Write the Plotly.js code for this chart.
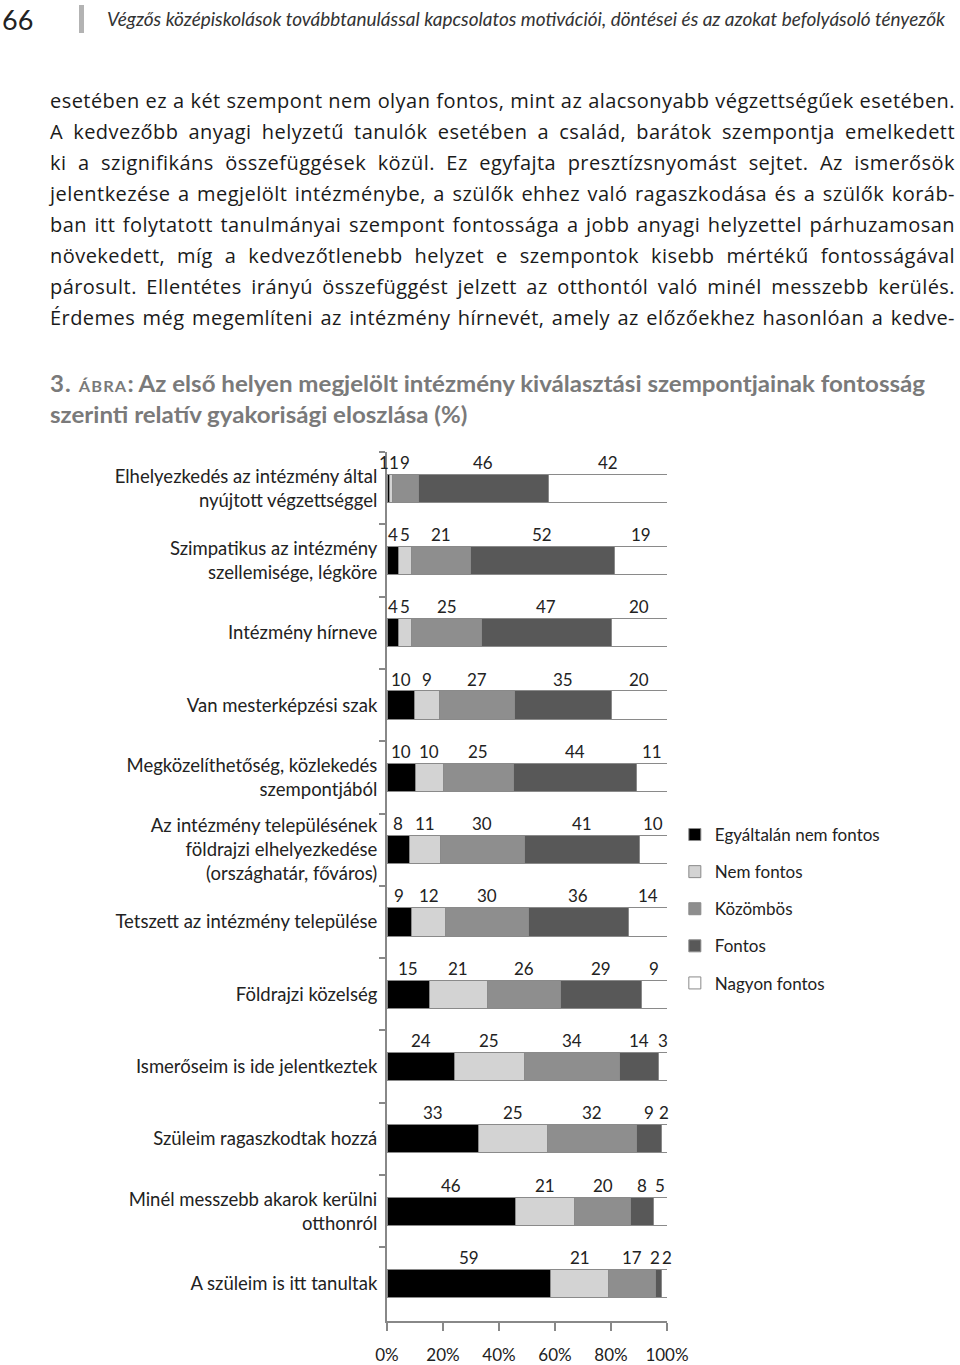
<!DOCTYPE html>
<html>
<head>
<meta charset="utf-8">
<script src="https://cdn.plot.ly/plotly-3.0.1.min.js"></script>
<style>
  html, body { margin:0; padding:0; background:#fff; }
  body { width:960px; height:1365px; position:relative; overflow:hidden; font-family: Lato, "Noto Sans", sans-serif; color:#1a1a1a; }
  .abs { position:absolute; }
  .pline { position:absolute; left:50px; height:31px; line-height:31px; font-size:20px; letter-spacing:0.45px; font-family:"Open Sans", "Noto Sans", sans-serif; color:#1a1a1a; white-space:nowrap; }
  .pline span { display:inline-block; white-space:nowrap; }
  .ttl { position:absolute; left:50px; height:31px; line-height:31px; font-size:22px; font-weight:700; color:#7a7a7a; white-space:nowrap; }
  .ttl span { display:inline-block; white-space:nowrap; transform-origin:0 50%; }
  .sc { font-variant:small-caps; letter-spacing:1px; }
</style>
</head>
<body>
<div class="abs" style="left:2px;top:4px;font-size:27px;line-height:32px;color:#222;">66</div>
<div class="abs" style="left:79px;top:5px;width:5px;height:28px;background:#b3b3b3;"></div>
<div class="abs" id="hdr" style="left:107px;top:4px;font-size:19px;line-height:30px;font-style:italic;color:#333;white-space:nowrap;transform-origin:0 50%;">Végzős középiskolások továbbtanulással kapcsolatos motivációi, döntései és az azokat befolyásoló tényezők</div>

<div id="para"></div>

<div class="ttl" style="top:368px;"><span id="t1"><span class="sc">3. ábra</span>: Az első helyen megjelölt intézmény kiválasztási szempontjainak fontosság</span></div>
<div class="ttl" style="top:399px;"><span id="t2">szerinti relatív gyakorisági eloszlása (%)</span></div>

<div id="chart" class="abs" style="left:0;top:440px;width:960px;height:925px;"></div>

<script>
// ---- page text ----
const paraLines = [
  "esetében ez a két szempont nem olyan fontos, mint az alacsonyabb végzettségűek esetében.",
  "A kedvezőbb anyagi helyzetű tanulók esetében a család, barátok szempontja emelkedett",
  "ki a szignifikáns összefüggések közül. Ez egyfajta presztízsnyomást sejtet. Az ismerősök",
  "jelentkezése a megjelölt intézménybe, a szülők ehhez való ragaszkodása és a szülők koráb-",
  "ban itt folytatott tanulmányai szempont fontossága a jobb anyagi helyzettel párhuzamosan",
  "növekedett, míg a kedvezőtlenebb helyzet e szempontok kisebb mértékű fontosságával",
  "párosult. Ellentétes irányú összefüggést jelzett az otthontól való minél messzebb kerülés.",
  "Érdemes még megemlíteni az intézmény hírnevét, amely az előzőekhez hasonlóan a kedve-"
];

// ---- chart data ----
const categories = [
  "Elhelyezkedés az intézmény által<br>nyújtott végzettséggel",
  "Szimpatikus az intézmény<br>szellemisége, légköre",
  "Intézmény hírneve",
  "Van mesterképzési szak",
  "Megközelíthetőség, közlekedés<br>szempontjából",
  "Az intézmény településének<br>földrajzi elhelyezkedése<br>(országhatár, főváros)",
  "Tetszett az intézmény települése",
  "Földrajzi közelség",
  "Ismerőseim is ide jelentkeztek",
  "Szüleim ragaszkodtak hozzá",
  "Minél messzebb akarok kerülni<br>otthonról",
  "A szüleim is itt tanultak"
];
const seriesNames = ["Egyáltalán nem fontos", "Nem fontos", "Közömbös", "Fontos", "Nagyon fontos"];
const egyaltalanNem = [1, 4, 4, 10, 10, 8, 9, 15, 24, 33, 46, 59];
const nemFontos     = [1, 5, 5, 9, 10, 11, 12, 21, 25, 25, 21, 21];
const kozombos      = [9, 21, 25, 27, 25, 30, 30, 26, 34, 32, 20, 17];
const fontos        = [46, 52, 47, 35, 44, 41, 36, 29, 14, 9, 8, 2];
const nagyonFontos  = [42, 19, 20, 20, 11, 10, 14, 9, 3, 2, 5, 2];
const tickVals = [0, 20, 40, 60, 80, 100];
const tickLabels = ["0%", "20%", "40%", "60%", "80%", "100%"];

const seriesValues = [egyaltalanNem, nemFontos, kozombos, fontos, nagyonFontos];
const colors = ["#000000", "#d3d3d3", "#8e8e8e", "#585858", "#ffffff"];

// build paragraph lines (justified)
const para = document.getElementById('para');
const W = 905;
paraLines.forEach((t, i) => {
  const d = document.createElement('div');
  d.className = 'pline';
  d.style.top = (85 + i * 31) + 'px';
  const s = document.createElement('span');
  s.textContent = t;
  d.appendChild(s);
  para.appendChild(d);
  const nat = s.getBoundingClientRect().width;
  const spaces = (t.match(/ /g) || []).length;
  if (nat <= W) {
    s.style.wordSpacing = ((W - nat) / spaces) + 'px';
  } else {
    s.style.transformOrigin = '0 50%';
    s.style.transform = 'scaleX(' + (W / nat) + ')';
  }
});
// fit header and title
(function(){
  const h = document.getElementById('hdr');
  const hw = h.getBoundingClientRect().width;
  h.style.transform = 'scaleX(' + (838 / hw) + ')';
  const t1 = document.getElementById('t1'), t2 = document.getElementById('t2');
  const k = 875 / t1.getBoundingClientRect().width;
  t1.style.transform = 'scaleX(' + k + ')';
  t2.style.transform = 'scaleX(' + k + ')';
})();

// ---- traces ----
const traces = seriesNames.map((name, j) => ({
  type: 'bar',
  orientation: 'h',
  name: name,
  x: seriesValues[j],
  y: categories,
  legendgroup: 'g' + j,
  marker: { color: colors[j], line: { color: '#8a8a8a', width: 1 } },
  hoverinfo: 'x+y+name'
}));

// value labels above each segment (positions derived from data)
const annotations = [];
categories.forEach((c, i) => {
  const total = seriesValues.reduce((a, s) => a + s[i], 0);
  let cum = 0;
  seriesValues.forEach((s, j) => {
    const v = s[i];
    const next = j < seriesValues.length - 1 ? seriesValues[j + 1][i] : 99;
    const prev = j > 0 ? seriesValues[j - 1][i] : 99;
    let xs = 0;
    if (v < 3 && next < 3) xs = -4;
    else if (v < 3 && prev < 3) xs = 3;
    annotations.push({
      x: (cum + v / 2) / total * 100,
      y: c,
      xref: 'x', yref: 'y',
      text: String(v),
      showarrow: false,
      xshift: xs,
      yshift: 26,
      borderpad: 0,
      font: { size: 17, color: '#222' }
    });
    cum += v;
  });
});

const layout = {
  width: 960,
  height: 925,
  margin: { l: 387, r: 293, t: 12, b: 44 },
  paper_bgcolor: '#fff',
  plot_bgcolor: '#fff',
  font: { family: 'Lato, "Noto Sans", sans-serif', size: 17, color: '#222' },
  barmode: 'stack',
  barnorm: 'percent',
  bargap: 0.61,
  showlegend: true,
  legend: {
    x: 1.028, xanchor: 'left',
    y: 0.58, yanchor: 'top',
    traceorder: 'grouped',
    tracegroupgap: 12,
    font: { size: 17, color: '#222' },
    bgcolor: 'rgba(0,0,0,0)'
  },
  xaxis: {
    range: [0, 100],
    tickmode: 'array',
    tickvals: tickVals,
    ticktext: tickLabels,
    ticks: 'outside', ticklen: 8, tickwidth: 2, tickcolor: '#888',
    ticklabelstandoff: 10,
    showline: true, linecolor: '#888', linewidth: 2,
    showgrid: false, zeroline: false,
    tickfont: { size: 17, color: '#222' }
  },
  yaxis: {
    type: 'category',
    autorange: 'reversed',
    showline: true, linecolor: '#888', linewidth: 2,
    ticks: 'outside', tickson: 'boundaries', ticklen: 6, tickwidth: 2, tickcolor: '#888',
    ticklabelstandoff: 4,
    showgrid: false, zeroline: false,
    tickfont: { size: 18.5, color: '#222' }
  },
  annotations: annotations
};

Plotly.newPlot('chart', traces, layout, { displayModeBar: false, staticPlot: true });
</script>
</body>
</html>
